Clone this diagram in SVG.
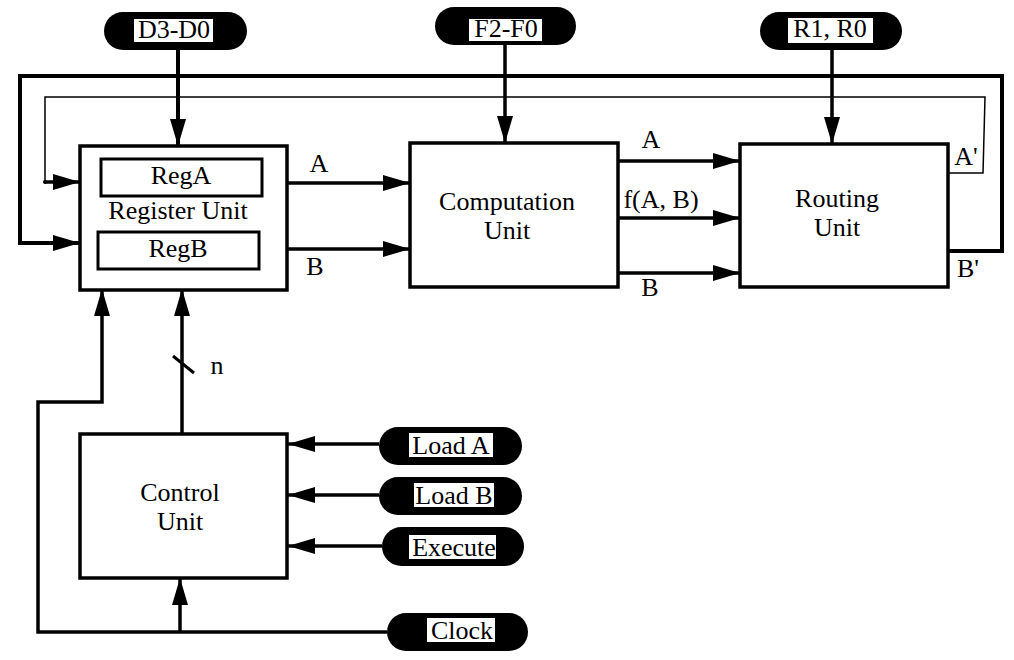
<svg xmlns="http://www.w3.org/2000/svg" width="1014" height="660" viewBox="0 0 1014 660">
  <style>
    .box { fill: #fff; stroke: #000; stroke-width: 3.5; }
    .reg { fill: #fff; stroke: #000; stroke-width: 3; }
    .pill { fill: #000; }
    .tbg { fill: #fff; }
    .lbl { font-family: "Liberation Serif", "Times New Roman", serif; font-size: 26px; fill: #000; text-anchor: middle; }
    .ptx { font-family: "Liberation Serif", "Times New Roman", serif; font-size: 26px; fill: #000; text-anchor: middle; }
    .w { fill: none; stroke: #000; stroke-width: 3.5; }
    .wt { fill: none; stroke: #000; stroke-width: 4; }
    .thin { fill: none; stroke: #000; stroke-width: 1.5; }
    .arr { marker-end: url(#ah); }
  </style>
  <defs>
    <marker id="ah" markerUnits="userSpaceOnUse" markerWidth="27" markerHeight="16" refX="27" refY="8" orient="auto">
      <path d="M0,0 L27,8 L0,16 z" fill="#000"/>
    </marker>
    <clipPath id="execClip"><rect x="409" y="535" width="87" height="24"/></clipPath>
  </defs>
  <rect width="1014" height="660" fill="#fff"/>

  <!-- wires -->
  <g id="connectors">
    <line class="wt arr" x1="178" y1="50" x2="178" y2="146"/>
    <line class="w arr" x1="505" y1="45" x2="505" y2="143"/>
    <line class="w arr" x1="832" y1="50" x2="832" y2="144"/>

    <line class="w arr" x1="287" y1="183" x2="410" y2="183"/>
    <line class="w arr" x1="287" y1="249" x2="410" y2="249"/>

    <line class="w arr" x1="618" y1="161" x2="740" y2="161"/>
    <line class="w arr" x1="618" y1="218" x2="740" y2="218"/>
    <line class="w arr" x1="618" y1="273" x2="740" y2="273"/>

    <!-- B' feedback -->
    <polyline class="wt arr" points="948,251 1002,251 1002,76 20,76 20,243 80,243"/>
    <!-- A' feedback -->
    <polyline class="thin" points="946,173 983,173 985,97 45,97 45,182"/>
    <line class="w arr" x1="45" y1="182" x2="80" y2="182"/>
    <circle cx="45" cy="182" r="2" fill="#000"/>

    <!-- clock -->
    <polyline class="w arr" points="387,632 38,632 38,402 102,402 102,289"/>
    <line class="w arr" x1="180" y1="632" x2="180" y2="578"/>

    <!-- control bus -->
    <line class="w arr" x1="182" y1="434" x2="182" y2="289"/>
    <line x1="173" y1="356" x2="194" y2="373" stroke="#000" stroke-width="3"/>

    <line class="w arr" x1="379" y1="444" x2="288" y2="444"/>
    <line class="w arr" x1="379" y1="495" x2="288" y2="495"/>
    <line class="w arr" x1="382" y1="546" x2="288" y2="546"/>

    <!-- wire labels -->
    <text class="lbl" x="319" y="172">A</text>
    <text class="lbl" x="315" y="275">B</text>
    <text class="lbl" x="651" y="148">A</text>
    <text class="lbl" x="661" y="208">f(A, B)</text>
    <text class="lbl" x="650" y="296">B</text>
    <text class="lbl" x="966" y="165">A'</text>
    <text class="lbl" x="968" y="277">B'</text>
    <text class="lbl" x="217" y="374">n</text>
  </g>

  <g id="register-unit">
    <rect class="box" x="80" y="146" width="207" height="144"/>
    <rect class="reg" x="101" y="159" width="161" height="37"/>
    <text class="lbl" x="181" y="184">RegA</text>
    <text class="lbl" x="178" y="219">Register Unit</text>
    <rect class="reg" x="98" y="232" width="161" height="37"/>
    <text class="lbl" x="178" y="257">RegB</text>
  </g>

  <g id="computation-unit">
    <rect class="box" x="410" y="143" width="208" height="144"/>
    <text class="lbl" x="507" y="210">Computation</text>
    <text class="lbl" x="507" y="239">Unit</text>
  </g>

  <g id="routing-unit">
    <rect class="box" x="740" y="144" width="208" height="143"/>
    <text class="lbl" x="837" y="207">Routing</text>
    <text class="lbl" x="837" y="236">Unit</text>
  </g>

  <g id="control-unit">
    <rect class="box" x="80" y="434" width="207" height="144"/>
    <text class="lbl" x="180" y="501">Control</text>
    <text class="lbl" x="180" y="530">Unit</text>
  </g>

  <g id="in-d">
    <rect class="pill" x="104" y="12" width="143" height="38" rx="19"/>
    <rect class="tbg" x="134" y="19" width="79" height="23"/>
    <text class="ptx" x="174" y="38">D3-D0</text>
  </g>

  <g id="in-f">
    <rect class="pill" x="435" y="7" width="141" height="38" rx="19"/>
    <rect class="tbg" x="469" y="19" width="73" height="22"/>
    <text class="ptx" x="506" y="37">F2-F0</text>
  </g>

  <g id="in-r">
    <rect class="pill" x="760" y="12" width="142" height="38" rx="19"/>
    <rect class="tbg" x="788" y="18" width="85" height="25"/>
    <text class="ptx" x="830" y="37">R1, R0</text>
  </g>

  <g id="in-load-a">
    <rect class="pill" x="379" y="427" width="143" height="38" rx="19"/>
    <rect class="tbg" x="409" y="433" width="84" height="24"/>
    <text class="ptx" x="451" y="454">Load A</text>
  </g>

  <g id="in-load-b">
    <rect class="pill" x="379" y="477" width="143" height="38" rx="19"/>
    <rect class="tbg" x="414" y="483" width="80" height="24"/>
    <text class="ptx" x="454" y="504">Load B</text>
  </g>

  <g id="in-execute">
    <rect class="pill" x="382" y="527" width="142" height="39" rx="19.5"/>
    <rect class="tbg" x="409" y="535" width="87" height="24"/>
    <text class="ptx" x="454" y="556" clip-path="url(#execClip)">Execute</text>
  </g>

  <g id="in-clock">
    <rect class="pill" x="387" y="613" width="141" height="38" rx="19"/>
    <rect class="tbg" x="427" y="618" width="68" height="24"/>
    <text class="ptx" x="462" y="639">Clock</text>
  </g>
</svg>
